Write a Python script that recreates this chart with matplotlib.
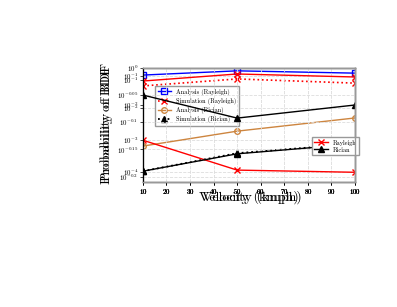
import numpy as np
import matplotlib as mpl
mpl.use('Agg')
import matplotlib.pyplot as plt
from matplotlib.ticker import FixedLocator, FixedFormatter, NullLocator

plt.rcParams['font.family'] = 'serif'
plt.rcParams['font.serif'] = ['cmr10', 'DejaVu Serif']
plt.rcParams['mathtext.fontset'] = 'cm'
plt.rcParams['axes.formatter.use_mathtext'] = True

# velocity (kmph)
velocity = [10, 50, 100]
xticks = [10, 20, 30, 40, 50, 60, 70, 80, 90, 100]

# figure 1: analysis vs simulation
analysis_rayleigh = [0.107, 0.145, 0.123]
sim_rayleigh = [0.049, 0.081, 0.060]
analysis_rician = [6.5e-4, 1.9e-3, 4.9e-3]
sim_rician = [1.07e-4, 3.9e-4, 7.6e-4]

# figure 2: narrow-range log axis
rayleigh_b = [10**-0.133, 10**-0.188, 10**-0.192]
rician_b = [10**-0.190, 10**-0.158, 10**-0.140]

# figure 3: a third overlaid plot
rayleigh_c = [0.091, 0.174, 0.132]
rician_c = [0.025, 0.003, 0.010]

fig = plt.figure(figsize=(3.97, 3.07), dpi=100)
rect = [0.360, 0.407, 0.534, 0.3715]

ax1 = fig.add_axes(rect)
ax2 = fig.add_axes(rect)
ax3 = fig.add_axes(rect)
for ax in (ax2, ax3):
	ax.patch.set_alpha(0)

for ax in (ax1, ax2, ax3):
	ax.set_xlim(10, 100)
	ax.set_xticks(xticks)
	ax.set_yscale('log')
	ax.tick_params(labelsize=5, length=2, width=0.5, pad=1.5)
	for s in ax.spines.values():
		s.set_color('#999999')
		s.set_linewidth(1.0)
	ax.spines['left'].set_color('black')
	ax.spines['left'].set_linewidth(0.8)

ax1.set_ylim(10**-4.31, 10**-0.75)
ax1.yaxis.set_major_locator(FixedLocator([1e-1, 1e-2, 1e-3, 1e-4]))
ax1.yaxis.set_major_formatter(FixedFormatter([r'$10^{-1}$', r'$10^{-2}$', r'$10^{-3}$', r'$10^{-4}$']))
ax1.yaxis.set_minor_locator(NullLocator())
ax1.grid(True, which='major', color='#dddddd', linestyle='--', linewidth=0.6)
ax1.grid(True, axis='x', color='#e6e6e6', linestyle=':', linewidth=0.6)

ax2.set_ylim(10**-0.21, 10**0)
b_ticks = [0, -0.05, -0.1, -0.15, -0.2]
ax2.yaxis.set_major_locator(FixedLocator([10**t for t in b_ticks]))
ax2.yaxis.set_major_formatter(FixedFormatter([r'$10^{0}$', r'$10^{-0.05}$', r'$10^{-0.1}$', r'$10^{-0.15}$', r'$10^{-0.2}$']))
ax2.yaxis.set_minor_locator(NullLocator())
ax2.grid(True, which='major', color='#dddddd', linestyle='--', linewidth=0.6)

ax3.set_ylim(10**-5.08, 10**-0.52)
ax3.yaxis.set_major_locator(FixedLocator([1e-1, 1e-2]))
ax3.yaxis.set_major_formatter(FixedFormatter([r'$10^{-1}$', r'$10^{-2}$']))
ax3.yaxis.set_minor_locator(NullLocator())

ax1.plot(velocity, analysis_rayleigh, '-s', color='blue', mfc='none', ms=4, lw=1, label='Analysis (Rayleigh)')
ax1.plot(velocity, sim_rayleigh, ':x', color='red', ms=4, lw=1.2, label='Simulation (Rayleigh)')
ax1.plot(velocity, analysis_rician, '-o', color='peru', mfc='none', ms=4, lw=1, label='Analysis (Rician)')
ax1.plot(velocity, sim_rician, ':^', color='black', ms=4, lw=1.3, label='Simulation (Rician)')
ax1.legend(loc='upper left', bbox_to_anchor=(0.057, 0.842), borderaxespad=0, fontsize=4.5,
	fancybox=False, edgecolor='#999999', framealpha=1, handlelength=2.2, labelspacing=0.35)

ax2.plot(velocity, rayleigh_b, '-x', color='red', ms=4, lw=1, label='Rayleigh')
ax2.plot(velocity, rician_b, '-^', color='black', ms=4, lw=1, label='Rician')
ax2.legend(loc='upper left', bbox_to_anchor=(0.797, 0.395), borderaxespad=0, fontsize=4.5,
	fancybox=False, edgecolor='#999999', framealpha=1, handlelength=2.2, labelspacing=0.2)

ax3.plot(velocity, rayleigh_c, '-x', color='red', ms=4, lw=1)
ax3.plot(velocity, rician_c, '-^', color='black', ms=4, lw=1)

# two overlapping axis titles, slightly shifted like in the original
ax1.set_xlabel('Velocity (kmph)', fontsize=10, fontweight='bold')
ax2.set_xlabel('Velocity (kmph)', fontsize=10, fontweight='bold')
ax1.xaxis.set_label_coords(0.5, -0.07)
ax2.xaxis.set_label_coords(0.515, -0.07)
ax1.set_ylabel('Probability of BDF', fontsize=10, fontweight='bold')
ax2.set_ylabel('Probability of BDF', fontsize=10, fontweight='bold')
ax1.yaxis.set_label_coords(-0.14, 0.5)
ax2.yaxis.set_label_coords(-0.14, 0.53)

fig.savefig('out.png', dpi=100)
